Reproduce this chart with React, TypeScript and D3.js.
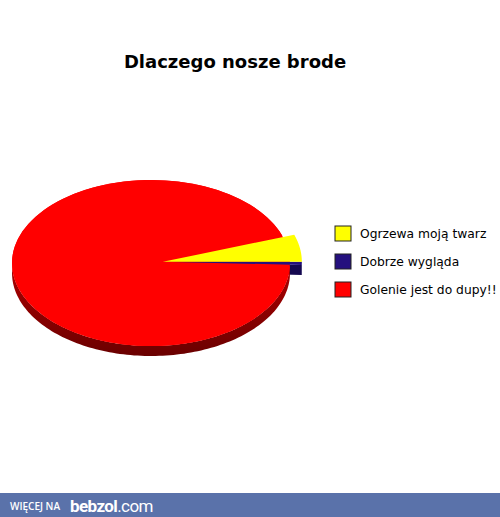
import React from 'react';
import * as d3 from 'd3';

const title = 'Dlaczego nosze brode';
const categories = ['Ogrzewa moją twarz', 'Dobrze wygląda', 'Golenie jest do dupy!!'];
const values = [5.3, 0.6, 94.1];
const topColors = ['#ffff00', '#24107e', '#ff0000'];
const sideColors = ['#b0b000', '#140850', '#8a0000'];
const exploded = [true, true, false];

const W = 500;
const H = 517;

export default function App() {
  const cx = 151;
  const cy = 263;
  const rx = 139;
  const ry = 83;
  const depth = 10;
  const explode = 12;

  // yellow starts just above 3 o'clock, pie runs clockwise from there
  const start = Math.PI / 2 - (values[0] / d3.sum(values)) * 2 * Math.PI;
  const pie = d3.pie<number>().sort(null).startAngle(start).endAngle(start + 2 * Math.PI);
  const arcs = pie(values);

  const pt = (a: number, ox: number, oy: number) => [ox + rx * Math.sin(a), oy - ry * Math.cos(a)] as [number, number];

  // the two small slices are pulled out together along the yellow's bisector
  const mid = (arcs[0].startAngle + arcs[0].endAngle) / 2;
  const offsetOf = (i: number) =>
    exploded[i] ? [cx + explode * Math.sin(mid), cy - explode * (ry / rx) * Math.cos(mid)] : [cx, cy];

  const line = d3.line();

  const wedge = (i: number) => {
    const [ox, oy] = offsetOf(i);
    const a = arcs[i];
    const pts = d3.range(0, 121).map((k) => pt(a.startAngle + ((a.endAngle - a.startAngle) * k) / 120, ox, oy));
    return line([[ox, oy], ...pts]) + 'Z';
  };

  // outer wall: only the front part (angles between 90° and 270°) is seen
  const wall = (i: number) => {
    const [ox, oy] = offsetOf(i);
    const a0 = Math.max(arcs[i].startAngle, Math.PI / 2);
    const a1 = Math.min(arcs[i].endAngle, (3 * Math.PI) / 2);
    if (a1 <= a0) return '';
    const top = d3.range(0, 121).map((k) => pt(a0 + ((a1 - a0) * k) / 120, ox, oy));
    const bottom = top.map(([x, y]) => [x, y + depth] as [number, number]).reverse();
    return line([...top, ...bottom]) + 'Z';
  };

  // cut face along the lower edge of an exploded slice
  const cut = (i: number) => {
    const [ox, oy] = offsetOf(i);
    const [x1, y1] = pt(arcs[i].endAngle, ox, oy);
    return line([[ox, oy], [x1, y1], [x1, y1 + depth], [ox, oy + depth]]) + 'Z';
  };

  const legendX = 335;
  const legendY = d3.scalePoint<string>().domain(categories).range([234, 290]);

  return (
    <svg width={W} height={H} style={{ position: 'absolute', left: 0, top: 0, background: '#fff' }}>
      <defs>
        <linearGradient id="redSide" x1="0" y1="0" x2="0" y2="1">
          <stop offset="0" stopColor="#b00000" />
          <stop offset="1" stopColor="#6a0000" />
        </linearGradient>
      </defs>
      <rect width={W} height={H} fill="#fff" />
      <text x={235} y={68} textAnchor="middle" fontFamily="DejaVu Sans" fontWeight="bold" fontSize={18}>
        {title}
      </text>

      {/* sides */}
      <path d={cut(1)} fill={sideColors[1]} />
      <path d={wall(1)} fill={sideColors[1]} />
      <path d={wall(2)} fill="url(#redSide)" />

      {/* tops */}
      <ellipse cx={cx} cy={cy} rx={rx} ry={ry} fill={topColors[2]} />
      <path d={wedge(2)} fill={topColors[2]} />
      <path d={wedge(1)} fill={topColors[1]} />
      <path d={wedge(0)} fill={topColors[0]} />

      {categories.map((c, i) => (
        <g key={c} transform={`translate(${legendX},${legendY(c)})`}>
          <rect x={0} y={-8} width={16} height={15} fill={topColors[i]} stroke="#222" strokeWidth={1} />
          <text x={25} y={4} fontFamily="DejaVu Sans" fontSize={12.3} fill="#000">
            {c}
          </text>
        </g>
      ))}

      <rect x={0} y={493} width={W} height={24} fill="#5a72aa" />
      <text x={10} y={510} fontFamily="Open Sans" fontSize={10} fontWeight="600" fill="#fff">
        WIĘCEJ NA
      </text>
      <text x={70} y={512} fontFamily="Roboto" fontSize={17} fill="#fff" letterSpacing={-0.6}>
        <tspan fontWeight="bold">bebzol</tspan>
        <tspan>.com</tspan>
      </text>
    </svg>
  );
}
